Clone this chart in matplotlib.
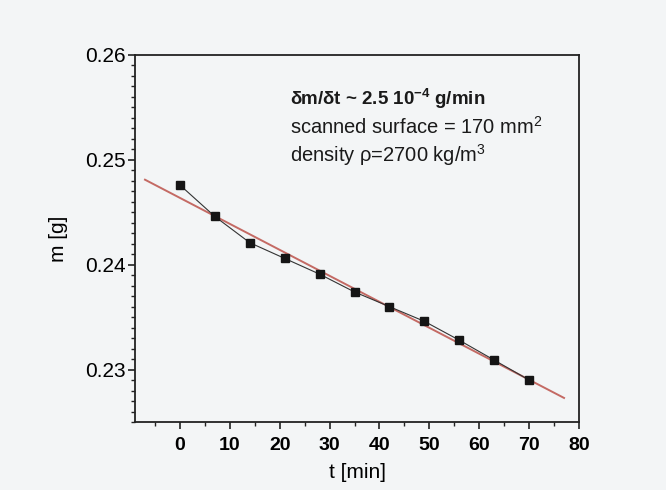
import numpy as np
import matplotlib
matplotlib.use("Agg")
import matplotlib.pyplot as plt
from matplotlib.ticker import MultipleLocator

t_min = [0, 7, 14, 21, 28, 35, 42, 49, 56, 63, 70]
mass_g = [0.2476, 0.2446, 0.2421, 0.2406, 0.2391, 0.2374, 0.2360, 0.2346, 0.2328, 0.2309, 0.2290]
fit_range = [-7, 77]
x_ticks = [0, 10, 20, 30, 40, 50, 60, 70, 80]
y_ticks = [0.23, 0.24, 0.25, 0.26]

plt.rcParams['font.family'] = ['Liberation Sans', 'DejaVu Sans']
plt.rcParams['mathtext.fontset'] = 'custom'
plt.rcParams['mathtext.rm'] = 'Liberation Sans'
plt.rcParams['mathtext.it'] = 'Liberation Sans:italic'
plt.rcParams['mathtext.bf'] = 'Liberation Sans:bold'
bg = '#f3f5f6'
fig = plt.figure(figsize=(6.66, 4.90), dpi=100, facecolor=bg)
ax = fig.add_axes([0.2027, 0.1388, 0.6667, 0.749])
ax.set_facecolor(bg)

slope, intercept = np.polyfit(t_min, mass_g, 1)
xf = np.array(fit_range, dtype=float)
ax.plot(xf, slope * xf + intercept, color='#c46a64', lw=1.4, zorder=2)
ax.plot(t_min, mass_g, color='#333333', lw=0.8, marker='s', ms=5.5,
        mfc='#151515', mec='#151515', zorder=3)

ax.set_xlim(-9, 80)
ax.set_ylim(0.225, 0.26)
ax.set_xticks(x_ticks)
ax.set_yticks(y_ticks)
ax.set_yticklabels([f"{v:.2f}" for v in y_ticks])
ax.xaxis.set_minor_locator(MultipleLocator(5))
ax.yaxis.set_minor_locator(MultipleLocator(0.001))
ax.tick_params(which='major', direction='out', length=5, width=1.2, color='#222222')
ax.tick_params(which='minor', direction='out', length=3, width=1.0, color='#222222')
ax.tick_params(axis='y', labelsize=15, pad=2)
ax.tick_params(axis='x', labelsize=14, pad=6)
for lbl in ax.get_xticklabels():
    lbl.set_fontweight('bold')
for sp in ax.spines.values():
    sp.set_linewidth(1.3)
    sp.set_color('#222222')

ax.set_xlabel('t [min]', fontsize=15, labelpad=6)
ax.set_ylabel('m [g]', fontsize=15, labelpad=12)

tx = 0.349
ax.text(tx, 0.864, '\u03b4m/\u03b4t ~ 2.5 10$^{\\mathbf{-4}}$ g/min',
        transform=ax.transAxes, fontsize=13.5, fontweight='bold', color='#1a1a1a')
ax.text(tx, 0.785, 'scanned surface = 170 mm$^{2}$', transform=ax.transAxes,
        fontsize=14.5, color='#1a1a1a')
ax.text(tx, 0.708, 'density \u03c1=2700 kg/m$^{3}$', transform=ax.transAxes,
        fontsize=14.5, color='#1a1a1a')

fig.savefig('out.png', dpi=100, facecolor=bg)
